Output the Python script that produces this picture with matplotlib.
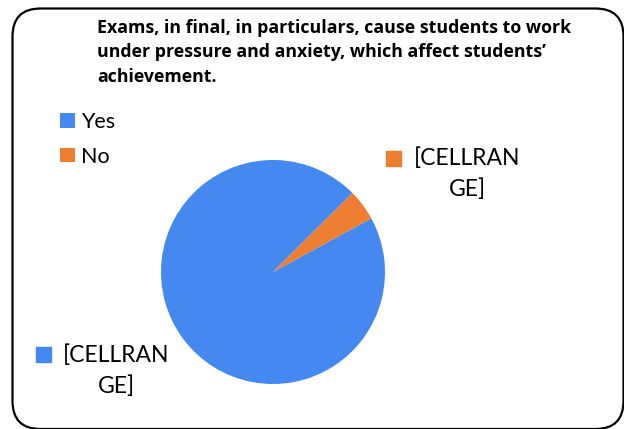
import matplotlib
matplotlib.use("Agg")
import matplotlib.pyplot as plt
from matplotlib.patches import FancyBboxPatch, Rectangle

categories = ["Yes", "No"]
values = [95.5, 4.5]
colors = ["#4488F0", "#ED7D31"]
title = ("Exams, in final, in particulars, cause students to work\n"
         "under pressure and anxiety, which affect students\u2019\n"
         "achievement.")
data_label = "[CELLRAN\nGE]"

W, H = 624, 429
fig = plt.figure(figsize=(W / 100, H / 100), dpi=100)
plt.rcParams['font.family'] = ['Lato', 'DejaVu Sans']

def fx(x):
    return x / W

def fy(y):
    return 1 - y / H

# border
border = FancyBboxPatch((fx(12.5), fy(429)), fx(611), (429 - 8.5) / H,
                        boxstyle="round,pad=0,rounding_size=0.045",
                        transform=fig.transFigure, fill=False,
                        edgecolor="black", linewidth=1.6, clip_on=False,
                        mutation_aspect=W / H)
fig.patches.append(border)

# pie
cx, cy, r = 273, 272, 112
ax = fig.add_axes([fx(cx - r), fy(cy + r), 2 * r / W, 2 * r / H])
wedges, _ = ax.pie(values, colors=colors, startangle=44.8, counterclock=True,
                   radius=1, wedgeprops=dict(linewidth=0))
ax.set_xlim(-1, 1)
ax.set_ylim(-1, 1)
ax.set_aspect('auto')
ax.axis('off')

# title
fig.text(fx(97), fy(19), title, ha='left', va='top', fontsize=12.8,
         fontweight='bold', linespacing=1.45, color='#000000',
         family=['Open Sans', 'DejaVu Sans'])

# legend
leg = fig.legend(wedges, categories, loc='upper left',
                 bbox_to_anchor=(fx(60), fy(112)), frameon=False,
                 fontsize=15.5, handlelength=0.68, handleheight=0.68,
                 handletextpad=0.3, labelspacing=0.68, borderpad=0,
                 borderaxespad=0)

# data labels
def data_lab(sx, sy, tx, ty, color):
    fig.patches.append(Rectangle((fx(sx), fy(sy + 14.5)), 14.5 / W, 14.5 / H,
                                 transform=fig.transFigure, color=color))
    fig.text(fx(tx), fy(ty), data_label, ha='center', va='top',
             fontsize=16.5, linespacing=1.57, color='#000000')

data_lab(386, 151, 467, 147, colors[1])
data_lab(36, 347, 116, 344, colors[0])

fig.savefig("out.png", dpi=100)
